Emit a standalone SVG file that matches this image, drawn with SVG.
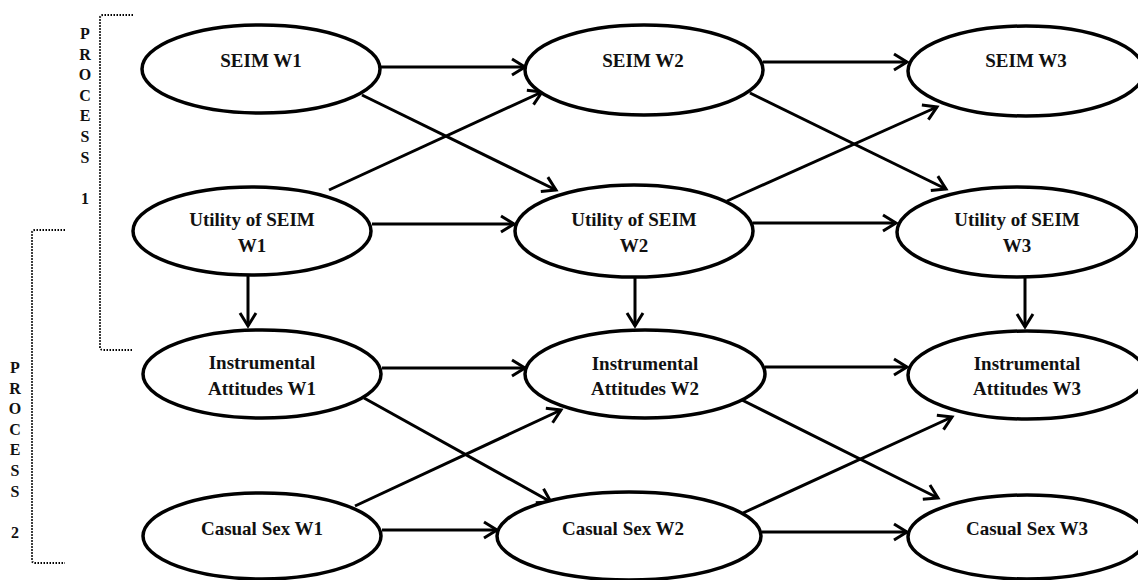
<svg xmlns="http://www.w3.org/2000/svg" width="1138" height="580" viewBox="0 0 1138 580">
<style>
.node ellipse{fill:#fff;stroke:#000;stroke-width:3.5}
.node text{font-family:"Liberation Serif","Times New Roman",serif;font-weight:bold;font-size:19px;text-anchor:middle;fill:#111}
.conn line{stroke:#000;stroke-width:3;marker-end:url(#arr)}
.brk{fill:none;stroke:#000;stroke-width:2;stroke-dasharray:1.5 1.5}
.plab{font-family:"Liberation Serif","Times New Roman",serif;font-weight:bold;font-size:16px;text-anchor:middle;fill:#111}
</style>
<defs>
<marker id="arr" markerUnits="userSpaceOnUse" viewBox="-3 -3 20 22" refX="13" refY="8" markerWidth="20" markerHeight="22" orient="auto">
<path d="M0,0 L13,8 L0,16" fill="none" stroke="#000" stroke-width="3"/>
</marker>
</defs>
<rect width="1138" height="580" fill="#fff"/>
<g id="bracket1">
<path class="brk" d="M133,15 H103 Q100,15 100,18 V347 Q100,350 103,350 H133"/>
<text class="plab" x="85" y="39">P</text>
<text class="plab" x="85" y="59.6">R</text>
<text class="plab" x="85" y="80.2">O</text>
<text class="plab" x="85" y="100.8">C</text>
<text class="plab" x="85" y="121.4">E</text>
<text class="plab" x="85" y="142">S</text>
<text class="plab" x="85" y="162.6">S</text>
<text class="plab" x="85" y="203.8">1</text>
</g>
<g id="bracket2">
<path class="brk" d="M65,230 H35 Q32,230 32,233 V560 Q32,563 35,563 H65"/>
<text class="plab" x="15" y="373">P</text>
<text class="plab" x="15" y="393.6">R</text>
<text class="plab" x="15" y="414.2">O</text>
<text class="plab" x="15" y="434.8">C</text>
<text class="plab" x="15" y="455.4">E</text>
<text class="plab" x="15" y="476">S</text>
<text class="plab" x="15" y="496.6">S</text>
<text class="plab" x="15" y="537.8">2</text>
</g>
<g class="conn" id="connectors">
<line x1="380" y1="67" x2="525" y2="67"/>
<line x1="362" y1="95" x2="556" y2="190"/>
<line x1="329" y1="190" x2="542" y2="92"/>
<line x1="372" y1="224" x2="514" y2="224"/>
<line x1="763" y1="62" x2="907" y2="62"/>
<line x1="750" y1="93" x2="946" y2="189"/>
<line x1="727" y1="201" x2="937" y2="107"/>
<line x1="753" y1="223" x2="896" y2="223"/>
<line x1="248" y1="276" x2="248" y2="326"/>
<line x1="635" y1="277" x2="635" y2="326"/>
<line x1="1025" y1="277" x2="1025" y2="327"/>
<line x1="382" y1="368" x2="525" y2="368"/>
<line x1="364" y1="398" x2="551" y2="502"/>
<line x1="355" y1="506" x2="561" y2="410"/>
<line x1="382" y1="530" x2="497" y2="530"/>
<line x1="765" y1="367" x2="907" y2="367"/>
<line x1="742" y1="400" x2="938" y2="498"/>
<line x1="743" y1="513" x2="952" y2="417"/>
<line x1="762" y1="532" x2="907" y2="532"/>
</g>
<g class="node" id="seim_w1"><ellipse cx="261" cy="69" rx="119" ry="44"/><text x="261" y="67">SEIM W1</text></g>
<g class="node" id="seim_w2"><ellipse cx="644" cy="70" rx="119" ry="45"/><text x="643" y="67">SEIM W2</text></g>
<g class="node" id="seim_w3"><ellipse cx="1026" cy="71" rx="118" ry="45"/><text x="1026" y="67">SEIM W3</text></g>
<g class="node" id="utility_w1"><ellipse cx="252" cy="231" rx="119" ry="44"/><text x="252" y="226">Utility of SEIM</text><text x="252" y="252">W1</text></g>
<g class="node" id="utility_w2"><ellipse cx="634" cy="231" rx="119" ry="46"/><text x="634" y="226">Utility of SEIM</text><text x="634" y="252">W2</text></g>
<g class="node" id="utility_w3"><ellipse cx="1017" cy="232" rx="120" ry="45"/><text x="1017" y="226">Utility of SEIM</text><text x="1017" y="252">W3</text></g>
<g class="node" id="instr_w1"><ellipse cx="262" cy="374" rx="119" ry="44"/><text x="262" y="369">Instrumental</text><text x="262" y="395">Attitudes W1</text></g>
<g class="node" id="instr_w2"><ellipse cx="645" cy="374" rx="120" ry="44"/><text x="645" y="370">Instrumental</text><text x="645" y="395">Attitudes W2</text></g>
<g class="node" id="instr_w3"><ellipse cx="1027" cy="375" rx="119" ry="44"/><text x="1027" y="370">Instrumental</text><text x="1027" y="395">Attitudes W3</text></g>
<g class="node" id="casual_w1"><ellipse cx="262" cy="536" rx="119" ry="43"/><text x="262" y="535">Casual Sex W1</text></g>
<g class="node" id="casual_w2"><ellipse cx="629" cy="536" rx="132" ry="44"/><text x="623" y="535">Casual Sex W2</text></g>
<g class="node" id="casual_w3"><ellipse cx="1027" cy="537" rx="119" ry="42"/><text x="1027" y="535">Casual Sex W3</text></g>
</svg>
